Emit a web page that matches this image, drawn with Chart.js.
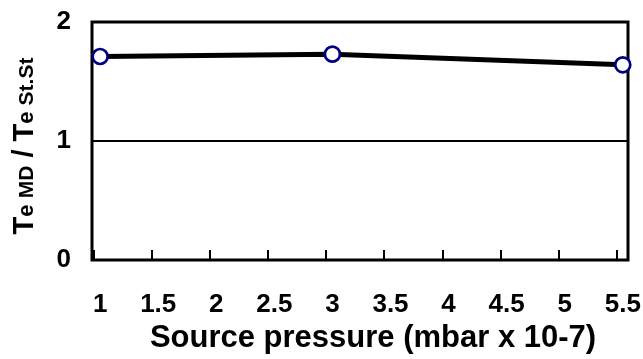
<!DOCTYPE html>
<html>
<head>
<meta charset="utf-8">
<script src="https://cdn.jsdelivr.net/npm/chart.js@4.4.0/dist/chart.umd.min.js"></script>
<style>
body{margin:0;background:#fff;}
#wrap{width:643px;height:359px;}
</style>
</head>
<body>
<div id="wrap"><canvas id="teChart"></canvas></div>
<script>
const pressure=[1,3,5.5]; // mbar x 10-7
const teRatio=[1.71,1.73,1.64];
const xTicks=[1,1.5,2,2.5,3,3.5,4,4.5,5,5.5];
const yTicks=[0,1,2];
const xTitle='Source pressure (mbar x 10-7)';
const FONT='"Liberation Sans", Arial, sans-serif';

// box round the plot + small inward tick marks on the bottom
const framePlugin={
    id:'frame',
    beforeDatasetsDraw(chart){
        const {ctx,chartArea:a}=chart;
        const xs=chart.scales.x;
        ctx.save();
        ctx.strokeStyle='#000';
        ctx.lineWidth=3;
        ctx.strokeRect(a.left,a.top,a.right-a.left,a.bottom-a.top);
        ctx.lineWidth=2;
        ctx.beginPath();
        xTicks.forEach(v=>{
            const px=Math.round(xs.getPixelForValue(v))-6;
            ctx.moveTo(px,a.bottom);
            ctx.lineTo(px,a.bottom-10);
        });
        ctx.stroke();
        ctx.restore();
    }
};

// axis titles (y one has subscripts)
const titlesPlugin={
    id:'titles',
    afterDraw(chart){
        const ctx=chart.ctx;
        ctx.save();
        ctx.fillStyle='#000';
        ctx.font=`bold 31px ${FONT}`;
        ctx.textAlign='center';
        ctx.textBaseline='middle';
        ctx.fillText(xTitle,373,338);

        const parts=[['T',29],['e ',22],['MD',21],[' / ',29],['T',29],['e ',22],['St.St',21]];
        ctx.translate(23,146);
        ctx.rotate(-Math.PI/2);
        ctx.textAlign='left';
        ctx.textBaseline='alphabetic';
        let total=0;
        parts.forEach(p=>{
            ctx.font=`bold ${p[1]}px ${FONT}`;
            total+=ctx.measureText(p[0]).width;
        });
        let x=-total/2;
        parts.forEach(p=>{
            ctx.font=`bold ${p[1]}px ${FONT}`;
            ctx.fillText(p[0],x,10);
            x+=ctx.measureText(p[0]).width;
        });
        ctx.restore();
    }
};

const ctx=document.getElementById('teChart').getContext('2d');
new Chart(ctx,{
    type:'scatter',
    data:{
        datasets:[{
            data:pressure.map((p,i)=>({x:p,y:teRatio[i]})),
            showLine:true,
            borderColor:'#000',
            borderWidth:5,
            pointRadius:7.5,
            pointHoverRadius:7.5,
            pointBorderWidth:2.7,
            pointBackgroundColor:'#fff',
            pointBorderColor:'#000080',
            clip:false
        }]
    },
    options:{
        responsive:true,
        maintainAspectRatio:false,
        animation:false,
        layout:{padding:{top:22,right:15,left:0,bottom:0}},
        plugins:{
            legend:{display:false},
            tooltip:{enabled:false}
        },
        scales:{
            x:{
                type:'linear',
                min:0.93,
                max:5.545,
                afterBuildTicks:s=>{s.ticks=xTicks.map(v=>({value:v}));},
                afterFit:s=>{s.height=99;s.paddingLeft=0;s.paddingRight=0;},
                grid:{display:false,drawTicks:false},
                border:{display:false},
                ticks:{
                    padding:29,
                    autoSkip:false,
                    maxRotation:0,
                    color:'#000',
                    font:{family:FONT,size:26,weight:'bold'},
                    callback:v=>String(v)
                }
            },
            y:{
                min:0,
                max:2,
                afterBuildTicks:s=>{s.ticks=yTicks.map(v=>({value:v}));},
                afterFit:s=>{s.width=92;s.paddingTop=0;s.paddingBottom=0;},
                grid:{
                    drawTicks:false,
                    lineWidth:2,
                    color:c=>(c.tick&&c.tick.value===1)?'#000':'rgba(0,0,0,0)'
                },
                border:{display:false},
                ticks:{
                    padding:21,
                    color:'#000',
                    font:{family:FONT,size:26,weight:'bold'},
                    callback:v=>String(v)
                }
            }
        }
    },
    plugins:[framePlugin,titlesPlugin]
});
</script>
</body>
</html>
